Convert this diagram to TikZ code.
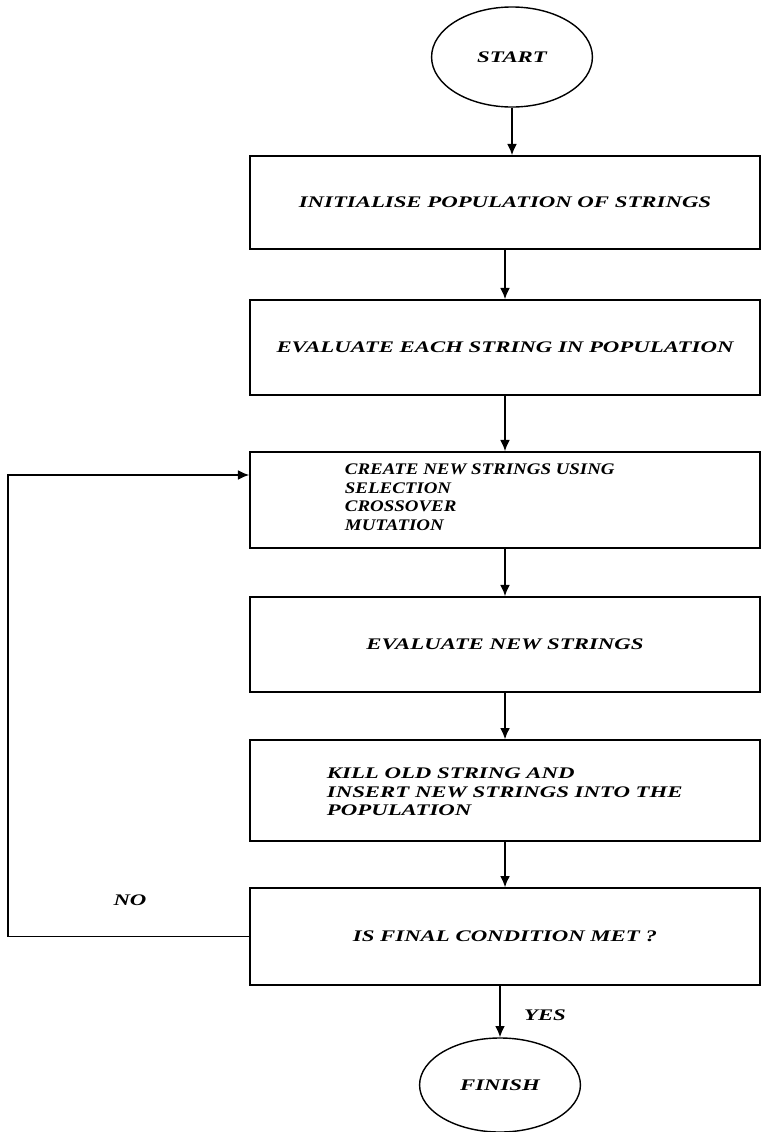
\documentclass[tikz,border=0pt]{standalone}
\usepackage{fontspec}
\newfontfamily\flowfont[FakeStretch=1.41]{Liberation Serif}
\newfontfamily\narrowfont[FakeStretch=1.17]{Liberation Serif}
\usetikzlibrary{arrows.meta,shapes.geometric,positioning}
\tikzset{
    %Define standard arrow tip
    >={Latex[length=8pt,width=7pt]},
    %Define style for text
    lbl/.style={
           font=\flowfont\bfseries\itshape\fontsize{11.5}{13.2}\selectfont},
    lblnarrow/.style={
           font=\narrowfont\bfseries\itshape\fontsize{11.5}{13.2}\selectfont},
    %Define style for boxes
    stepbox/.style={
           rectangle,
           draw=black,
           line width=1.1pt,
           minimum width=12.75cm,
           lbl},
    %Define style for start and finish
    termin/.style={
           ellipse,
           draw=black,
           line width=1pt,
           inner sep=0pt,
           minimum width=4.02cm,
           lbl},
    % Define arrow style
    pil/.style={
           ->,
           line width=1.1pt}
}
\begin{document}
\begin{tikzpicture}[x=0.025cm, y=-0.025cm]
  \useasboundingbox (0,0) rectangle (761,1132);
  \node[termin,minimum height=2.5cm] (start) at (512,57) {START};
  \node[stepbox,minimum height=2.33cm] (init) at (505,202.5) {INITIALISE POPULATION OF STRINGS};
  \node[stepbox,minimum height=2.38cm] (evalall) at (505,347.5) {EVALUATE EACH STRING IN POPULATION};
  \node[stepbox,minimum height=2.4cm] (create) at (505,500) {};
  \node[lblnarrow,anchor=west,align=left] (create-txt) at (340,497)
    {CREATE NEW STRINGS USING\\SELECTION\\CROSSOVER\\MUTATION};
  \node[stepbox,minimum height=2.38cm] (evalnew) at (505,644.5) {EVALUATE NEW STRINGS};
  \node[stepbox,minimum height=2.52cm] (kill) at (505,790.5) {};
  \node[lbl,anchor=west,align=left] (kill-txt) at (322,792)
    {KILL OLD STRING AND\\INSERT NEW STRINGS INTO THE\\POPULATION};
  \node[stepbox,minimum height=2.42cm] (test) at (505,936.5) {IS FINAL CONDITION MET ?};
  \node[termin,minimum height=2.35cm] (finish) at (500,1085) {FINISH};
  \node[lbl] (no) at (130,900) {NO};
  \node[lbl] (yes) at (545,1015) {YES};
  % main flow
  \draw[pil] (start.south) -- (start.south |- init.north);
  \draw[pil] (init) -- (evalall);
  \draw[pil] (evalall) -- (create);
  \draw[pil] (create) -- (evalnew);
  \draw[pil] (evalnew) -- (kill);
  \draw[pil] (kill) -- (test);
  \draw[pil] (finish.north |- test.south) -- (finish.north);
  % loop back
  \coordinate (loop-bot) at (8,936.5);
  \coordinate (loop-top) at (8,475);
  \draw[pil] (test.west) -- (loop-bot) -- (loop-top) -- (loop-top -| create.west);
\end{tikzpicture}
\end{document}
